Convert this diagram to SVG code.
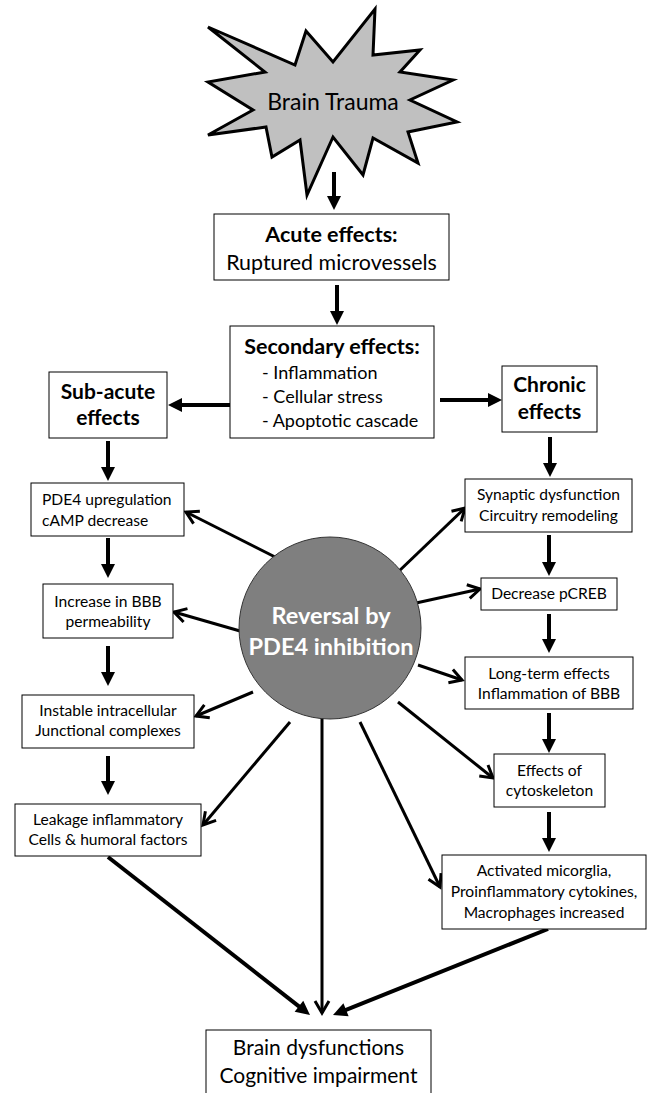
<svg xmlns="http://www.w3.org/2000/svg" width="647" height="1093" viewBox="0 0 647 1093">
<style>
text{font-family:Lato,"Liberation Sans",sans-serif;fill:#000}
.box{fill:#fff;stroke:#000;stroke-width:1}
.t15{font-size:15.6px;text-anchor:middle}
.t20{font-size:21.4px;text-anchor:middle}
.b20{font-size:21px;font-weight:bold;text-anchor:middle}
.thick{stroke:#000;stroke-width:4;fill:none;marker-end:url(#fh)}
.thin{stroke:#000;stroke-width:3;fill:none;marker-end:url(#oh)}
</style>
<defs>
<marker id="fh" markerUnits="userSpaceOnUse" markerWidth="16" markerHeight="16" refX="4" refY="7" orient="auto" overflow="visible">
<path d="M0,0 L14,7 L0,14 z" fill="#000"/>
</marker>
<marker id="oh" markerUnits="userSpaceOnUse" markerWidth="16" markerHeight="16" refX="12" refY="7" orient="auto" overflow="visible">
<path d="M0,0 L12,7 L0,14" fill="none" stroke="#000" stroke-width="3"/>
</marker>
</defs>
<g id="connectors">
<line class="thick" x1="334" y1="172" x2="334" y2="200"/>
<line class="thick" x1="337" y1="285" x2="337" y2="315"/>
<line class="thick" x1="230" y1="405" x2="178" y2="405"/>
<line class="thick" x1="440" y1="400" x2="492" y2="400"/>
<line class="thick" x1="108" y1="441" x2="108" y2="471"/>
<line class="thick" x1="550" y1="437" x2="550" y2="467"/>
<line class="thick" x1="108" y1="538" x2="108" y2="568"/>
<line class="thick" x1="549" y1="535" x2="549" y2="566"/>
<line class="thick" x1="108" y1="646" x2="108" y2="676"/>
<line class="thick" x1="549" y1="614" x2="549" y2="643"/>
<line class="thick" x1="108" y1="756" x2="108" y2="785"/>
<line class="thick" x1="549" y1="713" x2="549" y2="743"/>
<line class="thick" x1="549" y1="812" x2="549" y2="842"/>
<line class="thick" x1="108" y1="857" x2="302.1" y2="1008.8"/>
<line class="thick" x1="548" y1="929" x2="342.3" y2="1011.3"/>
<line class="thin" x1="285" y1="562" x2="186" y2="512"/>
<line class="thin" x1="240" y1="631" x2="174" y2="612"/>
<line class="thin" x1="253" y1="692" x2="196" y2="716"/>
<line class="thin" x1="290" y1="722" x2="203" y2="825"/>
<line class="thin" x1="322" y1="718" x2="322" y2="1013"/>
<line class="thin" x1="360" y1="722" x2="440" y2="887"/>
<line class="thin" x1="398" y1="702" x2="493" y2="778"/>
<line class="thin" x1="418" y1="665" x2="462" y2="680"/>
<line class="thin" x1="416" y1="603" x2="480" y2="589"/>
<line class="thin" x1="397" y1="573" x2="465" y2="508"/>
</g>
<g id="brain-trauma">
<polygon points="208,27 295,65 306,31 333,62 375,9 373,55 420,50 400,72 453,80 410,100 457,122 408,132 418,163 373,138 363,175 333,137 307,195 300,140 272,157 266,127 208,135 253,110 208,82 265,72" fill="#c0c0c0" stroke="#000" stroke-width="3" stroke-linejoin="miter"/>
<text x="333" y="110" style="font-size:23px;text-anchor:middle">Brain Trauma</text>
</g>
<g id="acute">
<rect class="box" x="214" y="214" width="235" height="66"/>
<text class="b20" x="331.5" y="242" style="font-size:21.5px">Acute effects:</text>
<text class="t20" x="331.5" y="270">Ruptured microvessels</text>
</g>
<g id="secondary">
<rect class="box" x="230" y="326" width="204" height="112"/>
<text class="b20" x="332" y="354" style="font-size:21.5px">Secondary effects:</text>
<text x="262" y="379" style="font-size:18px">- Inflammation</text>
<text x="262" y="403" style="font-size:18px">- Cellular stress</text>
<text x="262" y="427" style="font-size:18px">- Apoptotic cascade</text>
</g>
<g id="subacute">
<rect class="box" x="49" y="372" width="118" height="66"/>
<text class="b20" x="108" y="399">Sub-acute</text>
<text class="b20" x="108" y="425">effects</text>
</g>
<g id="chronic">
<rect class="box" x="502" y="366" width="95" height="66"/>
<text class="b20" x="549.5" y="392">Chronic</text>
<text class="b20" x="549.5" y="419">effects</text>
</g>
<g id="pde4">
<rect class="box" x="31" y="483" width="153" height="53"/>
<text x="42" y="505" style="font-size:15.6px">PDE4 upregulation</text>
<text x="42" y="526" style="font-size:15.6px">cAMP decrease</text>
</g>
<g id="synaptic">
<rect class="box" x="465" y="479" width="167" height="53"/>
<text class="t15" x="548.5" y="500">Synaptic dysfunction</text>
<text class="t15" x="548.5" y="521">Circuitry remodeling</text>
</g>
<g id="increase">
<rect class="box" x="43" y="584" width="130" height="54"/>
<text class="t15" x="108" y="607">Increase in BBB</text>
<text class="t15" x="108" y="627">permeability</text>
</g>
<g id="decrease">
<rect class="box" x="481" y="578" width="136" height="32"/>
<text class="t15" x="549" y="599">Decrease pCREB</text>
</g>
<g id="instable">
<rect class="box" x="22" y="695" width="172" height="53"/>
<text class="t15" x="108" y="716">Instable intracellular</text>
<text class="t15" x="108" y="736">Junctional complexes</text>
</g>
<g id="longterm">
<rect class="box" x="465" y="657" width="168" height="52"/>
<text class="t15" x="549" y="679">Long-term effects</text>
<text class="t15" x="549" y="699">Inflammation of BBB</text>
</g>
<g id="leakage">
<rect class="box" x="15" y="804" width="186" height="52"/>
<text class="t15" x="108" y="825">Leakage inflammatory</text>
<text class="t15" x="108" y="845">Cells &amp; humoral factors</text>
</g>
<g id="cytoskeleton">
<rect class="box" x="494" y="754" width="111" height="53"/>
<text class="t15" x="549.5" y="776">Effects of</text>
<text class="t15" x="549.5" y="796">cytoskeleton</text>
</g>
<g id="activated">
<rect class="box" x="442" y="855" width="204" height="74"/>
<text class="t15" x="544" y="876">Activated micorglia,</text>
<text class="t15" x="544" y="897">Proinflammatory cytokines,</text>
<text class="t15" x="544" y="918">Macrophages increased</text>
</g>
<g id="reversal">
<circle cx="330" cy="628" r="91" fill="#7f7f7f" stroke="#333" stroke-width="1"/>
<text x="331" y="624" style="font-size:23.5px;font-weight:bold;text-anchor:middle;fill:#fff">Reversal by</text>
<text x="331" y="655" style="font-size:23.5px;font-weight:bold;text-anchor:middle;fill:#fff">PDE4 inhibition</text>
</g>
<g id="brain-dysfunction">
<rect class="box" x="206" y="1030" width="225" height="70"/>
<text class="t20" x="318.5" y="1055" style="font-size:21px">Brain dysfunctions</text>
<text class="t20" x="318.5" y="1083" style="font-size:21px">Cognitive impairment</text>
</g>
</svg>
